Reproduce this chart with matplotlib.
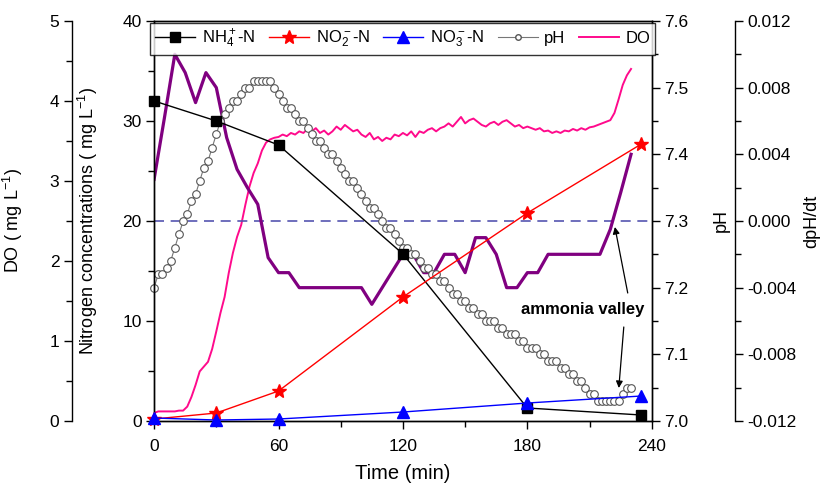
import numpy as np
import matplotlib.pyplot as plt
from matplotlib.ticker import MultipleLocator, FormatStrFormatter
from matplotlib.lines import Line2D

plt.rcParams['font.family'] = ['Liberation Sans', 'DejaVu Sans']
plt.rcParams['mathtext.fontset'] = 'custom'
plt.rcParams['mathtext.rm'] = 'Liberation Sans'
plt.rcParams['mathtext.it'] = 'Liberation Sans:italic'
plt.rcParams['mathtext.bf'] = 'Liberation Sans:bold'
plt.rcParams['mathtext.default'] = 'regular'

# nitrogen samples (mg/L)
t_n = [0, 30, 60, 120, 180, 235]
nh4 = [32.0, 30.0, 27.6, 16.7, 1.3, 0.6]
no2 = [0.2, 0.8, 3.0, 12.4, 20.8, 27.7]
no3 = [0.3, 0.1, 0.2, 0.9, 1.8, 2.5]

# pH every 2 min
t_ph = list(range(0, 231, 2))
ph = [7.20, 7.22, 7.22, 7.23, 7.24, 7.26, 7.28, 7.30, 7.31, 7.33,
      7.34, 7.36, 7.38, 7.39, 7.41, 7.43, 7.45, 7.46, 7.47, 7.48,
      7.48, 7.49, 7.50, 7.50, 7.51, 7.51, 7.51, 7.51, 7.51, 7.50,
      7.49, 7.48, 7.47, 7.47, 7.46, 7.45, 7.45, 7.44, 7.43, 7.42,
      7.42, 7.41, 7.40, 7.40, 7.39, 7.38, 7.37, 7.36, 7.36, 7.35,
      7.34, 7.33, 7.32, 7.32, 7.31, 7.30, 7.29, 7.29, 7.28, 7.27,
      7.26, 7.26, 7.25, 7.25, 7.24, 7.23, 7.23, 7.22, 7.22, 7.21,
      7.21, 7.20, 7.19, 7.19, 7.18, 7.18, 7.17, 7.17, 7.16, 7.16,
      7.15, 7.15, 7.15, 7.14, 7.14, 7.13, 7.13, 7.13, 7.12, 7.12,
      7.11, 7.11, 7.11, 7.10, 7.10, 7.09, 7.09, 7.09, 7.08, 7.08,
      7.07, 7.07, 7.06, 7.06, 7.05, 7.04, 7.04, 7.03, 7.03, 7.03,
      7.03, 7.03, 7.03, 7.04, 7.05, 7.05]

# DO every 2 min (mg/L)
t_do = list(range(0, 231, 2))
do = [0.10, 0.12, 0.12, 0.12, 0.12, 0.12, 0.13, 0.13, 0.18, 0.30,
      0.45, 0.62, 0.68, 0.74, 0.90, 1.12, 1.35, 1.55, 1.85, 2.10,
      2.30, 2.45, 2.70, 2.93, 3.10, 3.22, 3.38, 3.48, 3.52, 3.54,
      3.55, 3.58, 3.56, 3.60, 3.58, 3.62, 3.60, 3.65, 3.62, 3.66,
      3.60, 3.63, 3.58, 3.62, 3.68, 3.64, 3.70, 3.66, 3.62, 3.64,
      3.58, 3.55, 3.60, 3.52, 3.55, 3.50, 3.54, 3.52, 3.58, 3.56,
      3.60, 3.57, 3.62, 3.55, 3.62, 3.60, 3.64, 3.66, 3.62, 3.66,
      3.68, 3.72, 3.68, 3.74, 3.80, 3.72, 3.76, 3.78, 3.74, 3.70,
      3.68, 3.72, 3.74, 3.70, 3.74, 3.76, 3.72, 3.68, 3.70, 3.66,
      3.68, 3.66, 3.64, 3.66, 3.62, 3.63, 3.60, 3.62, 3.60, 3.63,
      3.62, 3.65, 3.63, 3.66, 3.64, 3.67, 3.68, 3.70, 3.72, 3.74,
      3.76, 3.85, 4.02, 4.20, 4.32, 4.40]

# dpH/dt every 5 min
t_d = list(range(0, 231, 5))
dph = [0.0025, 0.0062, 0.0100, 0.0089, 0.0071, 0.0089, 0.0080, 0.0050, 0.0031, 0.0020,
       0.0010, -0.0022, -0.0031, -0.0031, -0.0040, -0.0040, -0.0040, -0.0040, -0.0040, -0.0040,
       -0.0040, -0.0050, -0.0040, -0.0030, -0.0020, -0.0020, -0.0031, -0.0031, -0.0020, -0.0020,
       -0.0031, -0.0010, -0.0010, -0.0020, -0.0040, -0.0040, -0.0031, -0.0031, -0.0020, -0.0020,
       -0.0020, -0.0020, -0.0020, -0.0020, -0.0005, 0.0017, 0.0040]

fig = plt.figure(figsize=(8.24, 4.87), dpi=100)
ax = fig.add_axes([0.187, 0.1355, 0.604, 0.8215])
ax_ph = ax.twinx()
ax_do = ax.twinx()
ax_d = ax.twinx()

ax_do.spines['left'].set_position(('axes', -0.165))
ax_do.spines['left'].set_visible(True)
ax_do.yaxis.set_ticks_position('left')
ax_do.yaxis.set_label_position('left')
ax_do.spines['right'].set_visible(False)
ax_do.spines['top'].set_visible(False)
ax_d.spines['right'].set_position(('axes', 1.167))
ax_d.spines['top'].set_visible(False)
ax_d.spines['left'].set_visible(False)
ax_d.spines['bottom'].set_visible(False)
ax_do.spines['bottom'].set_visible(False)

# lines
ax_d.axhline(0, color='#5555b0', ls='--', lw=1.2, dashes=(6, 4))
ax_d.plot(t_d, dph, color='#800080', lw=2.3)
ax_do.plot(t_do, do, color='#ff0a8c', lw=1.4)
ax_ph.plot(t_ph, ph, color='#777777', lw=0.8, marker='o', ms=5.5,
           mfc='white', mec='#555555', mew=0.8, clip_on=False)
ax.plot(t_n, nh4, color='black', lw=1, marker='s', ms=7, clip_on=False, zorder=5)
ax.plot(t_n, no2, color='red', lw=1, marker='*', ms=10, clip_on=False, zorder=5)
ax.plot(t_n, no3, color='blue', lw=1, marker='^', ms=8, clip_on=False, zorder=5)
ax.set_zorder(3)
ax.patch.set_visible(False)
ax_ph.set_zorder(2)

# axes
ax.set_xlim(0, 240)
ax.set_ylim(0, 40)
ax_ph.set_ylim(7.0, 7.6)
ax_do.set_ylim(0, 5)
ax_d.set_ylim(-0.012, 0.012)

ax.xaxis.set_major_locator(MultipleLocator(60))
ax.xaxis.set_minor_locator(MultipleLocator(30))
ax.yaxis.set_major_locator(MultipleLocator(10))
ax.yaxis.set_minor_locator(MultipleLocator(5))
ax_ph.yaxis.set_major_locator(MultipleLocator(0.1))
ax_ph.yaxis.set_minor_locator(MultipleLocator(0.05))
ax_ph.yaxis.set_major_formatter(FormatStrFormatter('%.1f'))
ax_do.yaxis.set_major_locator(MultipleLocator(1))
ax_do.yaxis.set_minor_locator(MultipleLocator(0.5))
ax_d.yaxis.set_major_locator(MultipleLocator(0.004))
ax_d.yaxis.set_minor_locator(MultipleLocator(0.002))
ax_d.yaxis.set_major_formatter(FormatStrFormatter('%.3f'))

for a in (ax, ax_ph, ax_do, ax_d):
    a.tick_params(which='major', direction='out', length=6, width=1, labelsize=12.5, pad=3)
    a.tick_params(which='minor', direction='out', length=4, width=1)
    for s in a.spines.values():
        s.set_linewidth(1)
ax.tick_params(axis='x', which='both', top=False)
ax.tick_params(axis='x', which='major', pad=7)
ax.tick_params(axis='y', which='both', right=False)

ax.set_xlabel('Time (min)', fontsize=14.5, labelpad=7)
ax.set_ylabel('Nitrogen concentrations ( mg L$^{-1}$)', fontsize=13)
ax.yaxis.set_label_coords(-0.108, 0.5)
ax_do.set_ylabel('DO ( mg L$^{-1}$)', fontsize=13)
ax_do.yaxis.set_label_coords(-0.259, 0.5)
ax_ph.set_ylabel('pH', fontsize=13)
ax_ph.yaxis.set_label_coords(1.122, 0.5)
ax_d.set_ylabel('dpH/dt', fontsize=13)
ax_d.yaxis.set_label_coords(1.305, 0.5)

# annotation
ax.text(206.5, 11.1, 'ammonia valley', fontsize=12, fontweight='bold',
        ha='center', va='center', zorder=6)
ax.annotate('', xy=(222.2, 19.4), xytext=(228.4, 12.8),
            arrowprops=dict(arrowstyle='-|>', color='black', lw=0.9,
                            mutation_scale=10, shrinkA=0, shrinkB=0))
ax.annotate('', xy=(224.1, 3.3), xytext=(226.5, 9.4),
            arrowprops=dict(arrowstyle='-|>', color='black', lw=0.9,
                            mutation_scale=10, shrinkA=0, shrinkB=0))

handles = [
    Line2D([], [], color='black', lw=1, marker='s', ms=7),
    Line2D([], [], color='red', lw=1, marker='*', ms=10),
    Line2D([], [], color='blue', lw=1, marker='^', ms=8),
    Line2D([], [], color='#777777', lw=0.8, marker='o', ms=4, mfc='white', mec='#555555'),
    Line2D([], [], color='#ff0a8c', lw=1.4),
]
labels = ['NH$_4^+$-N', 'NO$_2^-$-N', 'NO$_3^-$-N', 'pH', 'DO']
leg = ax.legend(handles, labels, loc='upper center', ncol=5, fontsize=12,
                frameon=True, fancybox=False, edgecolor='black',
                borderaxespad=0.1, handlelength=2.4, columnspacing=0.8,
                handletextpad=0.4, borderpad=0.3)
leg.get_frame().set_linewidth(1)
leg.set_zorder(10)

fig.savefig('out.png', dpi=100)
